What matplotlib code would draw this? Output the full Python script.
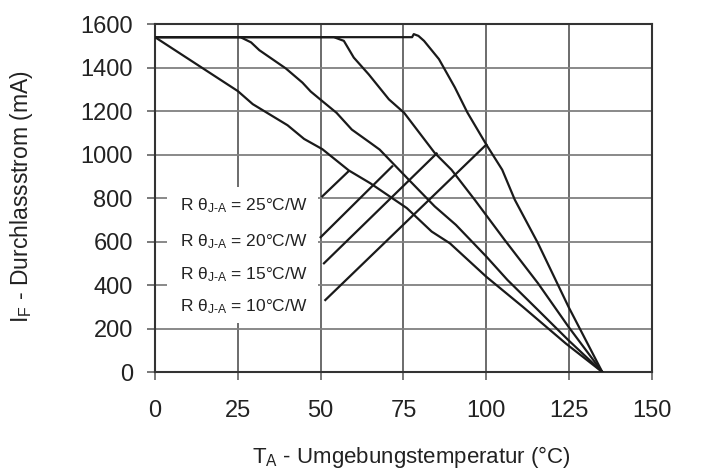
import numpy as np
import matplotlib.pyplot as plt
from matplotlib.patches import Rectangle

plt.rcParams['font.family'] = ['Liberation Sans', 'DejaVu Sans']
plt.rcParams['mathtext.fontset'] = 'custom'
plt.rcParams['mathtext.rm'] = 'Liberation Sans'
plt.rcParams['mathtext.it'] = 'Liberation Sans:italic'

# curves: ambient temperature (C) vs forward current (mA)
t_25 = [0, 13, 25, 29.5, 40, 45, 50.5, 58.5, 65, 76, 83.5, 89, 100, 111, 124, 135]
i_25 = [1540, 1411, 1292, 1232, 1135, 1072, 1025, 927, 868, 754, 646, 592, 438, 300, 131, 0]

t_20 = [0, 25.8, 29, 31.5, 39.5, 44.5, 47, 50, 54.8, 59.4, 65, 67.8, 76.1, 84.4, 90.8, 100, 106.4, 115.6, 124.8, 135]
i_20 = [1540, 1540, 1516, 1480, 1396, 1331, 1290, 1252, 1192, 1115, 1054, 1023, 892, 762, 677, 531, 423, 285, 146, 0]

t_15 = [0, 54, 57, 60, 64.5, 70.6, 75.2, 84.4, 89.5, 96.5, 105.5, 115.6, 124.8, 135]
i_15 = [1540, 1540, 1523, 1446, 1369, 1254, 1192, 1008, 930, 792, 608, 408, 208, 0]

t_10 = [0, 77.6, 78.1, 79.5, 81.2, 85.7, 90.5, 94.3, 100, 104.8, 108.6, 115.6, 124.8, 135]
i_10 = [1540, 1540, 1554, 1546, 1523, 1439, 1309, 1193, 1046, 930, 792, 592, 300, 0]

# pointer lines from the labels to the curves
ptr_t = [(50.5, 58.4), (50, 71.6), (51, 85), (51.4, 100)]
ptr_i = [(808, 923), (620, 946), (500, 1005), (331, 1046)]
lab_txt = ['25', '20', '15', '10']
lab_y = [765, 600, 446, 302]

fig = plt.figure(figsize=(7.11, 4.73), dpi=100)
ax = fig.add_axes([0.218, 0.2135, 0.699, 0.7355])

for t, i in [(t_25, i_25), (t_20, i_20), (t_15, i_15), (t_10, i_10)]:
    ax.plot(t, i, color='#1a1a1a', lw=1.6, zorder=3)
for pt, pi in zip(ptr_t, ptr_i):
    ax.plot(pt, pi, color='#1a1a1a', lw=1.6, zorder=3)

# white panel behind the labels (hides the grid there)
ax.add_patch(Rectangle((3.6, 225), 45.7, 625, facecolor='white', edgecolor='none', zorder=1))
for txt, y in zip(lab_txt, lab_y):
    ax.text(7.5, y, 'R θ$_{\\mathregular{J\\text{-}A}}$ = ' + txt + '°C/W', fontsize=12.5,
            color='#222222', va='center', ha='left', zorder=2)

ax.set_xlim(0, 150)
ax.set_ylim(0, 1600)
ax.set_xticks(np.arange(0, 151, 25))
ax.set_yticks(np.arange(0, 1601, 200))
ax.grid(axis='x', color='#444444', lw=1.1, zorder=0)
ax.grid(axis='y', color='#808080', lw=1.3, zorder=0)
ax.set_axisbelow(True)
for s in ax.spines.values():
    s.set_color('#333333')
    s.set_linewidth(1.5)
ax.tick_params(direction='out', length=6, width=1.1, color='#555555',
               labelsize=17, labelcolor='#222222')
ax.tick_params(axis='y', pad=10)
ax.tick_params(axis='x', pad=14)

ax.set_xlabel('T$_\\mathregular{A}$ - Umgebungstemperatur (°C)', fontsize=16, color='#222222', va='center')
ax.set_ylabel('I$_\\mathregular{F}$ - Durchlassstrom (mA)', fontsize=16.5, color='#222222', va='center')
ax.xaxis.set_label_coords(0.515, -0.244)
ax.yaxis.set_label_coords(-0.268, 0.505)

fig.savefig('out.png', dpi=100)
